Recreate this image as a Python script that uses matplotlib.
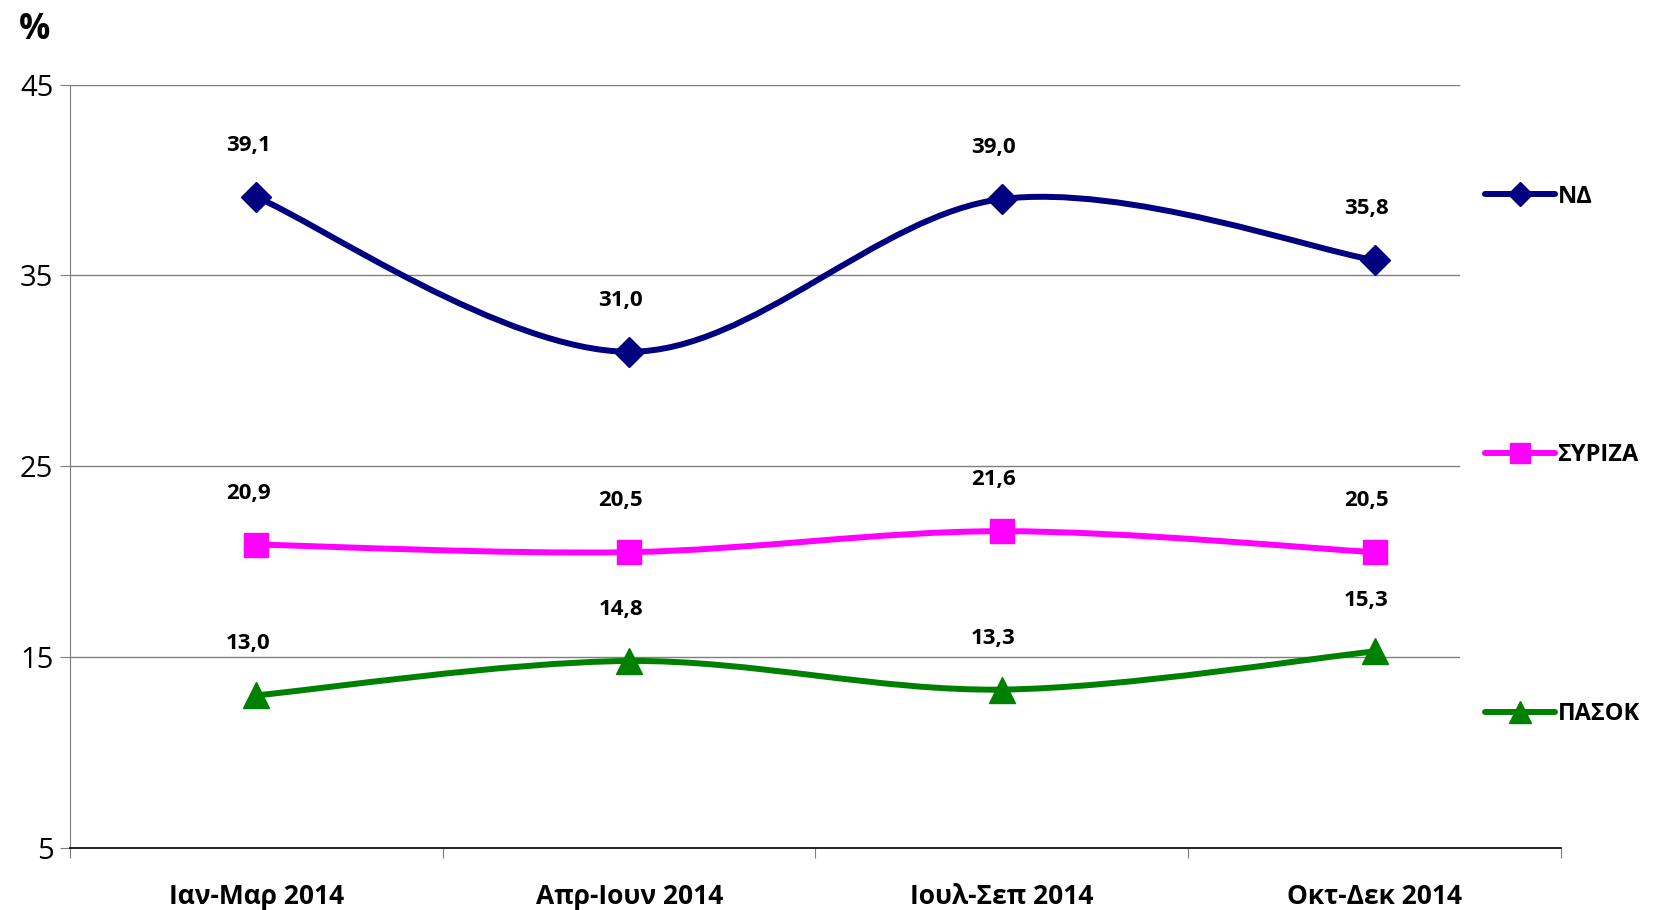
import matplotlib.pyplot as plt
import numpy as np
from matplotlib.path import Path
from matplotlib.patches import PathPatch
from matplotlib.lines import Line2D

plt.rcParams['font.family'] = ['Open Sans', 'DejaVu Sans']

quarters = ['Ιαν-Μαρ 2014', 'Απρ-Ιουν 2014', 'Ιουλ-Σεπ 2014', 'Οκτ-Δεκ 2014']
nd = [39.1, 31.0, 39.0, 35.8]
syriza = [20.9, 20.5, 21.6, 20.5]
pasok = [13.0, 14.8, 13.3, 15.3]
parties = ['ΝΔ', 'ΣΥΡΙΖΑ', 'ΠΑΣΟΚ']
yticks = [5, 15, 25, 35, 45]

colors = ['#000080', '#FF00FF', '#008000']
markers = ['D', 's', '^']
msizes = [15.5, 17.5, 19]


def smooth_path(x, y):
    # excel-like smoothed line (catmull-rom as cubic bezier)
    pts = np.column_stack([x, y]).astype(float)
    ext = np.vstack([pts[0], pts, pts[-1]])
    verts = [pts[0]]
    codes = [Path.MOVETO]
    for i in range(len(pts) - 1):
        p0, p1, p2, p3 = ext[i], ext[i + 1], ext[i + 2], ext[i + 3]
        verts += [p1 + (p2 - p0) / 6, p2 - (p3 - p1) / 6, p2]
        codes += [Path.CURVE4] * 3
    return Path(verts, codes)


fig = plt.figure(figsize=(16.56, 9.10), dpi=100)
ax = fig.add_axes([0.0423, 0.0681, 0.9003, 0.839])

x = np.arange(len(quarters))
ax.set_xlim(-0.5, 3.5)
ax.set_ylim(5, 45)

# gridlines stop short of the axis end
for yv in yticks[1:]:
    ax.plot([-0.5, 3.226], [yv, yv], color='#7f7f7f', lw=1, zorder=1)

handles = []
for vals, c, m, ms, name in zip([nd, syriza, pasok], colors, markers, msizes, parties):
    ax.add_patch(PathPatch(smooth_path(x, vals), fill=False, edgecolor=c,
                           lw=4.3, capstyle='round', zorder=3))
    ax.plot(x, vals, linestyle='none', marker=m, color=c, ms=ms, zorder=4)
    for xi, v in zip(x, vals):
        ax.annotate(f'{v:.1f}'.replace('.', ','), (xi, v), xytext=(-6, 37),
                    textcoords='offset points', ha='center', va='center',
                    fontsize=16, fontweight='bold', color='black')
    handles.append(Line2D([], [], color=c, lw=4.3, marker=m, ms=ms - 3,
                          solid_capstyle='round', label=name))

ax.set_yticks(yticks)
ax.set_xticks(np.arange(-0.5, 4, 1), minor=False)
ax.set_xticklabels([])
ax.set_xticks(x, minor=True)
ax.set_xticklabels(quarters, minor=True, fontsize=19, fontweight='bold')
ax.tick_params(axis='x', which='minor', length=0, pad=25)
ax.tick_params(axis='x', which='major', length=7, color='#7f7f7f', direction='out')
ax.tick_params(axis='y', length=7, color='#7f7f7f', labelsize=21, pad=5)

for s in ['top', 'right']:
    ax.spines[s].set_visible(False)
ax.spines['left'].set_color('#7f7f7f')
ax.spines['bottom'].set_color('black')
ax.spines['bottom'].set_linewidth(1.2)

fig.text(0.021, 0.967, '%', fontsize=25, fontweight='bold', ha='center', va='center')

fig.legend(handles=handles, loc='center left', bbox_to_anchor=(0.897, 0.4995),
           frameon=False, prop={'size': 17, 'weight': 'bold'},
           handlelength=2.95, handletextpad=0.1, labelspacing=9.94,
           borderaxespad=0, borderpad=0)

fig.savefig('out.png', dpi=100)
